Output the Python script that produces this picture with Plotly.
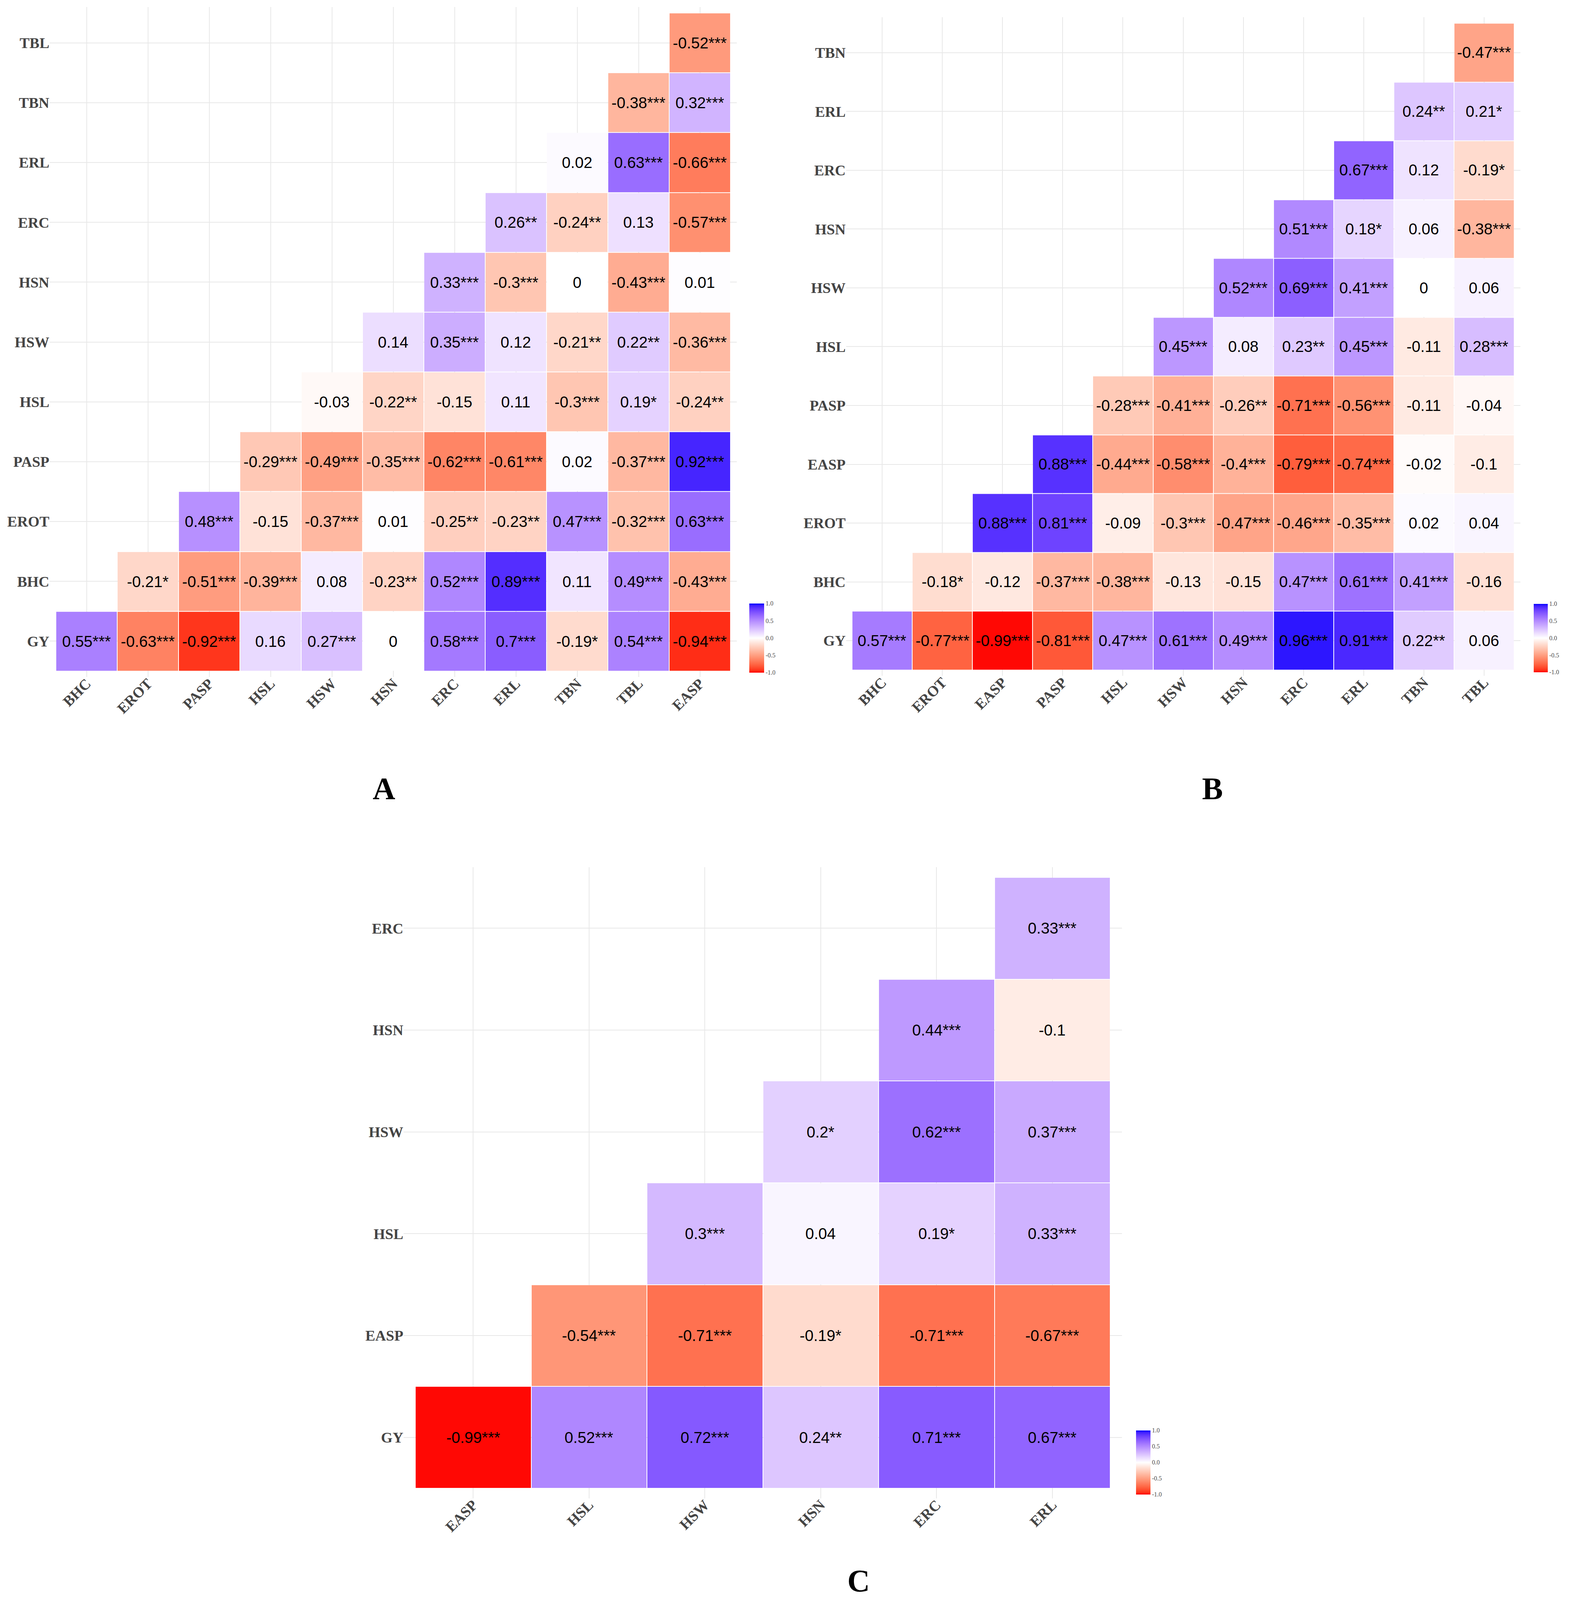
import plotly.graph_objects as go

# reference canvas; the page body adds an 8px margin round the figure and the
# visible page is a little shorter than the reference, so y is scaled to fit
REF_W, REF_H = 4024, 4259
VIEW_H = 4150
OFF = 8
W, H = REF_W - 2 * OFF, VIEW_H - 2 * OFF
KY = VIEW_H / REF_H

# ---- panel A ----
a_rows = ["GY", "BHC", "EROT", "PASP", "HSL", "HSW", "HSN", "ERC", "ERL", "TBN", "TBL"]
a_cols = ["BHC", "EROT", "PASP", "HSL", "HSW", "HSN", "ERC", "ERL", "TBN", "TBL", "EASP"]
a_vals = [
    [0.55, -0.63, -0.92, 0.16, 0.27, 0, 0.58, 0.7, -0.19, 0.54, -0.94],
    [-0.21, -0.51, -0.39, 0.08, -0.23, 0.52, 0.89, 0.11, 0.49, -0.43],
    [0.48, -0.15, -0.37, 0.01, -0.25, -0.23, 0.47, -0.32, 0.63],
    [-0.29, -0.49, -0.35, -0.62, -0.61, 0.02, -0.37, 0.92],
    [-0.03, -0.22, -0.15, 0.11, -0.3, 0.19, -0.24],
    [0.14, 0.35, 0.12, -0.21, 0.22, -0.36],
    [0.33, -0.3, 0, -0.43, 0.01],
    [0.26, -0.24, 0.13, -0.57],
    [0.02, 0.63, -0.66],
    [-0.38, 0.32],
    [-0.52],
]
a_sig = [
    ["***", "***", "***", "", "***", "", "***", "***", "*", "***", "***"],
    ["*", "***", "***", "", "**", "***", "***", "", "***", "***"],
    ["***", "", "***", "", "**", "**", "***", "***", "***"],
    ["***", "***", "***", "***", "***", "", "***", "***"],
    ["", "**", "", "", "***", "*", "**"],
    ["", "***", "", "**", "**", "***"],
    ["***", "***", "", "***", ""],
    ["**", "**", "", "***"],
    ["", "***", "***"],
    ["***", "***"],
    ["***"],
]

# ---- panel B ----
b_rows = ["GY", "BHC", "EROT", "EASP", "PASP", "HSL", "HSW", "HSN", "ERC", "ERL", "TBN"]
b_cols = ["BHC", "EROT", "EASP", "PASP", "HSL", "HSW", "HSN", "ERC", "ERL", "TBN", "TBL"]
b_vals = [
    [0.57, -0.77, -0.99, -0.81, 0.47, 0.61, 0.49, 0.96, 0.91, 0.22, 0.06],
    [-0.18, -0.12, -0.37, -0.38, -0.13, -0.15, 0.47, 0.61, 0.41, -0.16],
    [0.88, 0.81, -0.09, -0.3, -0.47, -0.46, -0.35, 0.02, 0.04],
    [0.88, -0.44, -0.58, -0.4, -0.79, -0.74, -0.02, -0.1],
    [-0.28, -0.41, -0.26, -0.71, -0.56, -0.11, -0.04],
    [0.45, 0.08, 0.23, 0.45, -0.11, 0.28],
    [0.52, 0.69, 0.41, 0, 0.06],
    [0.51, 0.18, 0.06, -0.38],
    [0.67, 0.12, -0.19],
    [0.24, 0.21],
    [-0.47],
]
b_sig = [
    ["***", "***", "***", "***", "***", "***", "***", "***", "***", "**", ""],
    ["*", "", "***", "***", "", "", "***", "***", "***", ""],
    ["***", "***", "", "***", "***", "***", "***", "", ""],
    ["***", "***", "***", "***", "***", "***", "", ""],
    ["***", "***", "**", "***", "***", "", ""],
    ["***", "", "**", "***", "", "***"],
    ["***", "***", "***", "", ""],
    ["***", "*", "", "***"],
    ["***", "", "*"],
    ["**", "*"],
    ["***"],
]

# ---- panel C ----
c_rows = ["GY", "EASP", "HSL", "HSW", "HSN", "ERC"]
c_cols = ["EASP", "HSL", "HSW", "HSN", "ERC", "ERL"]
c_vals = [
    [-0.99, 0.52, 0.72, 0.24, 0.71, 0.67],
    [-0.54, -0.71, -0.19, -0.71, -0.67],
    [0.3, 0.04, 0.19, 0.33],
    [0.2, 0.62, 0.37],
    [0.44, -0.1],
    [0.33],
]
c_sig = [
    ["***", "***", "***", "**", "***", "***"],
    ["***", "***", "*", "***", "***"],
    ["***", "", "*", "***"],
    ["*", "***", "***"],
    ["***", ""],
    ["***"],
]

cbar_ticks = [-1.0, -0.5, 0.0, 0.5, 1.0]


# red - white - blue gradient, interpolated in Lab like ggplot's gradient2
def _lin(c):
    c = c / 255.0
    return c / 12.92 if c <= 0.04045 else ((c + 0.055) / 1.055) ** 2.4


def _unlin(c):
    c = 12.92 * c if c <= 0.0031308 else 1.055 * c ** (1 / 2.4) - 0.055
    return max(0, min(255, round(c * 255)))


def to_lab(rgb):
    r, g, b = [_lin(v) for v in rgb]
    x = (0.4124 * r + 0.3576 * g + 0.1805 * b) / 0.95047
    y = 0.2126 * r + 0.7152 * g + 0.0722 * b
    z = (0.0193 * r + 0.1192 * g + 0.9505 * b) / 1.08883
    f = lambda t: t ** (1 / 3) if t > 0.008856 else 7.787 * t + 16 / 116
    fx, fy, fz = f(x), f(y), f(z)
    return (116 * fy - 16, 500 * (fx - fy), 200 * (fy - fz))


def from_lab(lab):
    L, a, b = lab
    fy = (L + 16) / 116
    fx = fy + a / 500
    fz = fy - b / 200
    finv = lambda t: t ** 3 if t ** 3 > 0.008856 else (t - 16 / 116) / 7.787
    x, y, z = finv(fx) * 0.95047, finv(fy), finv(fz) * 1.08883
    r = 3.2406 * x - 1.5372 * y - 0.4986 * z
    g = -0.9689 * x + 1.8758 * y + 0.0415 * z
    bb = 0.0557 * x - 0.2040 * y + 1.0570 * z
    return "rgb(%d,%d,%d)" % (_unlin(r), _unlin(g), _unlin(bb))


red, white, blue = to_lab((255, 0, 0)), to_lab((255, 255, 255)), to_lab((0, 0, 255))
colorscale = []
for k in range(41):
    t = k / 40
    if t <= 0.5:
        s, p, q = t / 0.5, red, white
    else:
        s, p, q = (t - 0.5) / 0.5, white, blue
    colorscale.append([t, from_lab([p[i] + (q[i] - p[i]) * s for i in range(3)])])


def fx(px):
    return (px - OFF) / W


def fy(py):
    return 1 - (py * KY - OFF) / H


serif = "Liberation Serif, Times New Roman, serif"
sans = "Liberation Sans, Arial, sans-serif"

fig = go.Figure()

# geometry of the tile area of each panel (reference pixels)
panels = [
    dict(rows=a_rows, cols=a_cols, vals=a_vals, sig=a_sig, left=143, top=34, cw=157.0, ch=157.2,
         cb=(1918, 1767, 182, 38), label="A", lx=952, ly=2072, ax=""),
    dict(rows=b_rows, cols=b_cols, vals=b_vals, sig=b_sig, left=2181, top=61, cw=154.1, ch=154.5,
         cb=(3926, 1766, 180, 36), label="B", lx=3132, ly=2072, ax="2"),
    dict(rows=c_rows, cols=c_cols, vals=c_vals, sig=c_sig, left=1063, top=2305, cw=296.5, ch=267.5,
         cb=(2908, 3926, 168, 37), label="C", lx=2198, ly=4200, ax="3"),
]

for p in panels:
    nr, nc = len(p["rows"]), len(p["cols"])
    z, txt = [], []
    for i in range(nr):
        zr, tr = [], []
        for j in range(nc):
            if j >= i:
                v = p["vals"][i][j - i]
                zr.append(v)
                tr.append(f"{v:g}" + p["sig"][i][j - i])
            else:
                zr.append(None)
                tr.append("")
        z.append(zr)
        txt.append(tr)

    cbx, cby, cblen, cbth = p["cb"]
    fig.add_trace(go.Heatmap(
        z=z, x=list(range(nc)), y=list(range(nr)), text=txt, texttemplate="%{text}",
        textfont=dict(family=sans, size=40, color="black"),
        zmin=-1, zmax=1, colorscale=colorscale, xgap=2, ygap=2, hoverongaps=False,
        xaxis="x" + p["ax"], yaxis="y" + p["ax"],
        colorbar=dict(x=fx(cbx), xanchor="left", y=fy(cby), yanchor="bottom",
                      lenmode="pixels", len=cblen * KY, thicknessmode="pixels", thickness=cbth,
                      xpad=0, ypad=0, outlinewidth=0, ticks="", tickvals=cbar_ticks,
                      ticktext=["-1.0", "-0.5", "0.0", "0.5", "1.0"],
                      tickfont=dict(family=serif, size=16, color="#4d4d4d")),
    ))

    x0 = fx(p["left"] - 0.1 * p["cw"])
    x1 = fx(p["left"] + (nc + 0.1) * p["cw"])
    ytop = fy(p["top"] - 0.1 * p["ch"])
    ybot = fy(p["top"] + (nr + 0.1) * p["ch"])
    tick_font = dict(family=serif, size=38, color="#444444", weight="bold")
    fig.update_layout(**{
        "xaxis" + p["ax"]: dict(domain=[x0, x1], anchor="y" + p["ax"], range=[-0.6, nc - 0.4],
                                tickvals=list(range(nc)), ticktext=p["cols"], tickangle=-45,
                                tickfont=tick_font, ticklabelstandoff=-14,
                                showgrid=True, gridcolor="#e8e8e8", gridwidth=2,
                                zeroline=False, showline=False, ticks=""),
        "yaxis" + p["ax"]: dict(domain=[ybot, ytop], anchor="x" + p["ax"],
                                range=[-0.6, nr - 0.4], tickvals=list(range(nr)), ticktext=p["rows"],
                                tickfont=tick_font, showgrid=True, gridcolor="#e8e8e8", gridwidth=2,
                                zeroline=False, showline=False, ticks=""),
    })
    fig.add_annotation(text=p["label"], x=fx(p["lx"]), y=fy(p["ly"]), xref="paper", yref="paper",
                       showarrow=False, font=dict(family=serif, size=80, color="black", weight="bold"))

fig.update_layout(width=W, height=H, margin=dict(l=0, r=0, t=0, b=0), autosize=False,
                  paper_bgcolor="white", plot_bgcolor="white", showlegend=False)

fig.write_html("out.html")
